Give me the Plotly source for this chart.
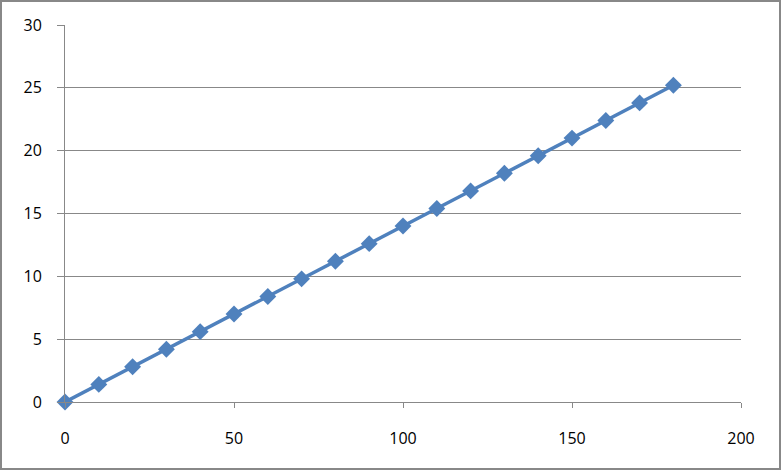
import plotly.graph_objects as go

x_vals = [0, 10, 20, 30, 40, 50, 60, 70, 80, 90, 100, 110, 120, 130, 140, 150, 160, 170, 180]
y_vals = [0, 1.4, 2.8, 4.2, 5.6, 7.0, 8.4, 9.8, 11.2, 12.6, 14.0, 15.4, 16.8, 18.2, 19.6, 21.0, 22.4, 23.8, 25.2]
x_ticks = [0, 50, 100, 150, 200]
y_ticks = [0, 5, 10, 15, 20, 25, 30]

W, H = 782, 471
ml, mr, mt, mb = 65, 41, 25, 69
pw, ph = W - ml - mr, H - mt - mb

fig = go.Figure(go.Scatter(
    x=x_vals, y=y_vals, mode="lines+markers",
    line=dict(color="#4F81BD", width=3.5),
    marker=dict(symbol="diamond", size=13, color="#4F81BD"),
    showlegend=False, cliponaxis=False,
))

axis_common = dict(showline=True, linecolor="#888888", linewidth=1,
                   ticks="outside", tickcolor="#888888",
                   tickfont=dict(family="Open Sans", size=16, color="#000000"),
                   zeroline=False)
fig.update_xaxes(range=[0, 200], tickvals=x_ticks, showgrid=False, ticklen=5,
                 ticklabelstandoff=17, **axis_common)
fig.update_yaxes(range=[0, 30], tickvals=y_ticks, showgrid=True, gridcolor="#888888",
                 gridwidth=1, ticklen=7, ticklabelstandoff=12, **axis_common)

fig.add_shape(type="rect", xref="paper", yref="paper",
              x0=(1 - ml) / pw, x1=(780 - ml) / pw,
              y0=(H - mb - 469) / ph, y1=(H - mb - 1) / ph,
              line=dict(color="#888888", width=2), fillcolor="rgba(0,0,0,0)", layer="below")

fig.update_layout(width=W, height=H, margin=dict(l=ml, r=mr, t=mt, b=mb),
                  plot_bgcolor="white", paper_bgcolor="white")
fig.write_html("out.html", config={"displayModeBar": False},
               post_script="document.body.style.margin='0';")
